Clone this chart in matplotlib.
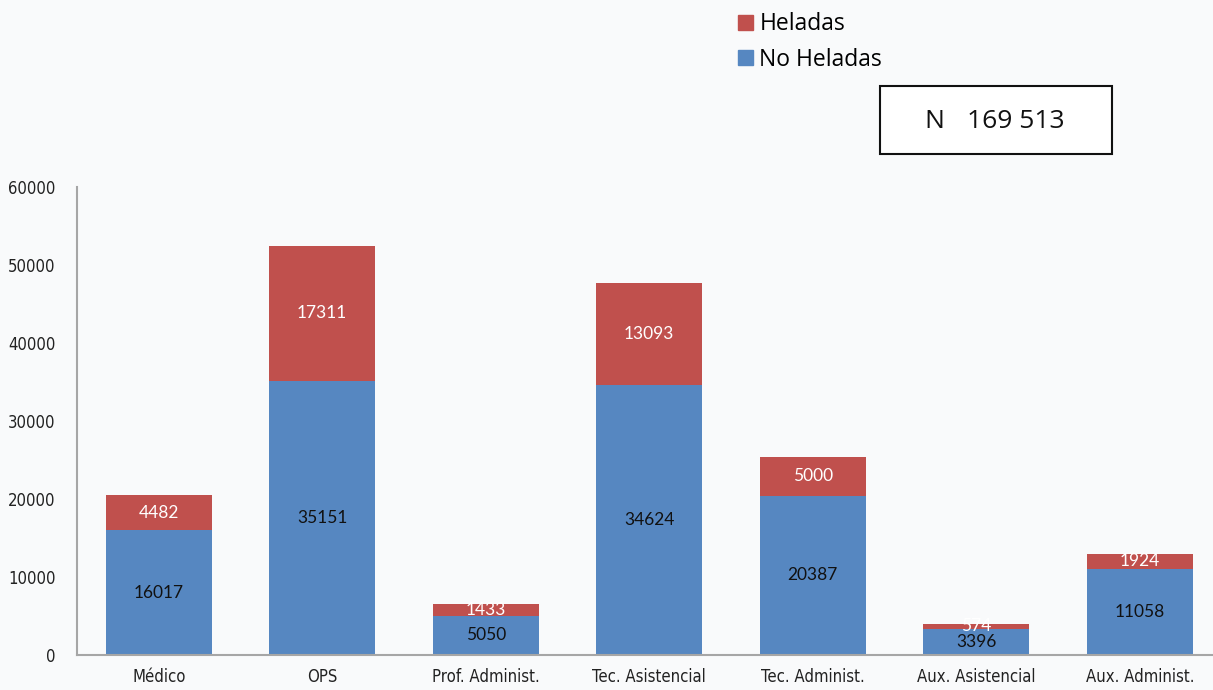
import matplotlib.pyplot as plt
from matplotlib.patches import Patch, Rectangle
from matplotlib import font_manager

categorias = ["Médico", "OPS", "Prof. Administ.", "Tec. Asistencial",
              "Tec. Administ.", "Aux. Asistencial", "Aux. Administ."]
no_heladas = [16017, 35151, 5050, 34624, 20387, 3396, 11058]
heladas = [4482, 17311, 1433, 13093, 5000, 574, 1924]
total_n = "169 513"

azul = "#5687c1"
rojo = "#c0504d"
fondo = "#f9fafb"

# fuente estrecha para los ejes
narrow = font_manager.FontProperties(family="DejaVu Sans", stretch="condensed", size=12)

fig = plt.figure(figsize=(12.13, 6.9), dpi=100, facecolor=fondo)
ax = fig.add_axes([77 / 1213, 35 / 690, (1213 - 77) / 1213, (655 - 187) / 690])
ax.set_facecolor("none")

x = list(range(len(categorias)))
ax.bar(x, no_heladas, width=0.65, color=azul, label="No Heladas")
ax.bar(x, heladas, width=0.65, bottom=no_heladas, color=rojo, label="Heladas")

for i in x:
    ax.text(i, no_heladas[i] / 2, str(no_heladas[i]), ha="center", va="center",
            fontsize=12.5, color="#111111", family="Lato")
    ax.text(i, no_heladas[i] + heladas[i] / 2, str(heladas[i]), ha="center",
            va="center", fontsize=12.5, color="white", family="Lato")

ax.set_xlim(-0.5, (1213 - 77) / 163.5 - 0.5)
ax.set_ylim(0, 60000)
ax.set_yticks(range(0, 60001, 10000))
ax.set_xticks(x)
ax.set_xticklabels(categorias)
for t in ax.get_xticklabels() + ax.get_yticklabels():
    t.set_fontproperties(narrow)
    t.set_color("#222222")
ax.tick_params(axis="y", length=0, pad=15.5)
ax.tick_params(axis="x", length=0, pad=9)
for s in ["top", "right"]:
    ax.spines[s].set_visible(False)
for s in ["left", "bottom"]:
    ax.spines[s].set_color("#a6a6a6")
    ax.spines[s].set_linewidth(1.5)

handles = [Patch(color=rojo), Patch(color=azul)]
fig.legend(handles, ["Heladas", "No Heladas"], loc="upper left",
           bbox_to_anchor=(717 / 1213, 1.012), frameon=False,
           prop={"family": "Open Sans", "size": 16.5}, handlelength=0.65,
           handleheight=0.65, handletextpad=0.3, labelspacing=0.5)

fig.add_artist(Rectangle((880 / 1213, 1 - 154 / 690), 232 / 1213, 68 / 690,
                         transform=fig.transFigure, fc="white", ec="#111111", lw=1.5))
fig.text(934 / 1213, 1 - 121 / 690, "N", ha="center", va="center",
         fontsize=19, family="Open Sans", color="#111111")
fig.text(1016 / 1213, 1 - 121 / 690, total_n, ha="center", va="center",
         fontsize=19, family="Open Sans", color="#111111")

fig.savefig("out.png", dpi=100, facecolor=fondo)
